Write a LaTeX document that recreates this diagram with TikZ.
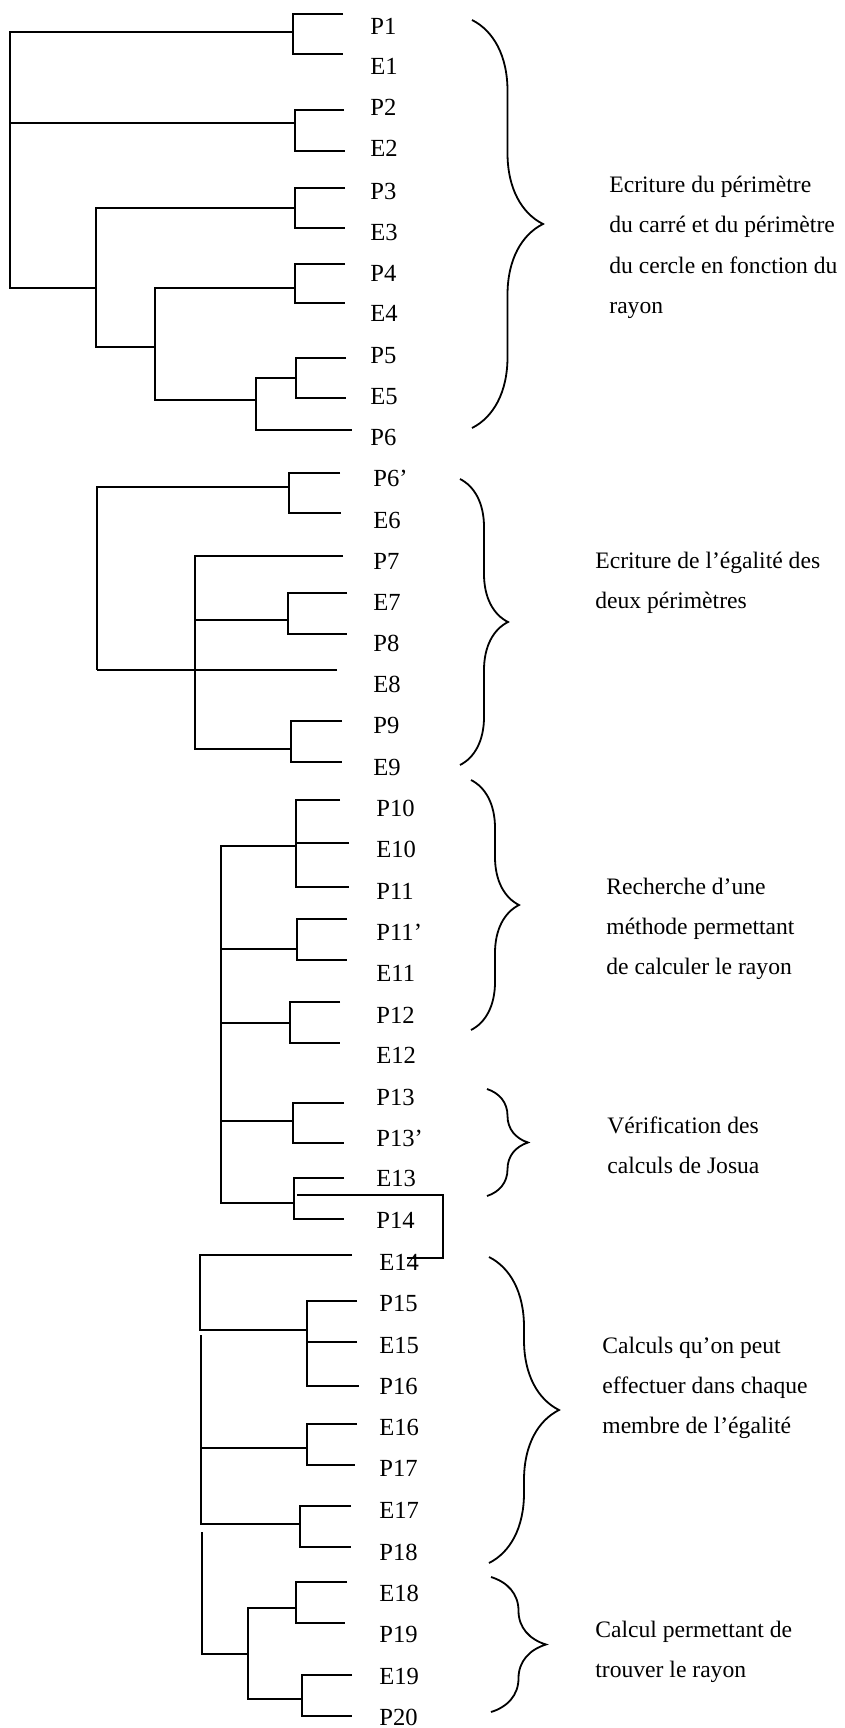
\documentclass[tikz,border=0pt]{standalone}
\usepackage{fontspec}
\setmainfont{Liberation Serif}
\usepackage{tikz}
\usetikzlibrary{positioning}
\usetikzlibrary{decorations.pathreplacing}

\begin{document}
\begin{tikzpicture}[x=0.5pt, y=-0.5pt,
    leaf style/.style={anchor=base west, inner sep=0pt,
        font=\fontsize{12.3}{14}\selectfont},
    note style/.style={anchor=base west, inner sep=0pt, align=left,
        font=\fontsize{11.8}{20}\selectfont},
    branch/.style={black, line width=1.1pt},
    brace edge/.style={black, line width=0.9pt, decorate}
]
\useasboundingbox (0,0) rectangle (845,1728);

% feuilles
\node[leaf style] (P1) at (370,35) {P1};
\node[leaf style] (E1) at (370,75) {E1};
\node[leaf style] (P2) at (370,116) {P2};
\node[leaf style] (E2) at (370,157) {E2};
\node[leaf style] (P3) at (370,200) {P3};
\node[leaf style] (E3) at (370,241) {E3};
\node[leaf style] (P4) at (370,281) {P4};
\node[leaf style] (E4) at (370,321) {E4};
\node[leaf style] (P5) at (370,363) {P5};
\node[leaf style] (E5) at (370,404) {E5};
\node[leaf style] (P6) at (370,445) {P6};

\node[leaf style] (P6') at (373,486) {P6’};
\node[leaf style] (E6) at (373,528) {E6};
\node[leaf style] (P7) at (373,569) {P7};
\node[leaf style] (E7) at (373,610) {E7};
\node[leaf style] (P8) at (373,651) {P8};
\node[leaf style] (E8) at (373,692) {E8};
\node[leaf style] (P9) at (373,733) {P9};
\node[leaf style] (E9) at (373,775) {E9};

\node[leaf style] (P10) at (376,816) {P10};
\node[leaf style] (E10) at (376,857) {E10};
\node[leaf style] (P11) at (376,899) {P11};
\node[leaf style] (P11') at (376,940) {P11’};
\node[leaf style] (E11) at (376,981) {E11};
\node[leaf style] (P12) at (376,1023) {P12};
\node[leaf style] (E12) at (376,1063) {E12};
\node[leaf style] (P13) at (376,1105) {P13};
\node[leaf style] (P13') at (376,1146) {P13’};
\node[leaf style] (E13) at (376,1186) {E13};
\node[leaf style] (P14) at (376,1228) {P14};

\node[leaf style] (E14) at (379,1270) {E14};
\node[leaf style] (P15) at (379,1311) {P15};
\node[leaf style] (E15) at (379,1353) {E15};
\node[leaf style] (P16) at (379,1394) {P16};
\node[leaf style] (E16) at (379,1435) {E16};
\node[leaf style] (P17) at (379,1476) {P17};
\node[leaf style] (E17) at (379,1518) {E17};
\node[leaf style] (P18) at (379,1560) {P18};
\node[leaf style] (E18) at (379,1601) {E18};
\node[leaf style] (P19) at (379,1642) {P19};
\node[leaf style] (E19) at (379,1684) {E19};
\node[leaf style] (P20) at (379,1725) {P20};

% bouts des branches
\coordinate (P1-l) at (343,14);
\coordinate (E1-l) at (343,54);
\coordinate (P2-l) at (344,110);
\coordinate (E2-l) at (345,151);
\coordinate (P3-l) at (345,188);
\coordinate (E3-l) at (345,228);
\coordinate (P4-l) at (345,264);
\coordinate (E4-l) at (345,303);
\coordinate (P5-l) at (346,358);
\coordinate (E5-l) at (346,398);
\coordinate (P6-l) at (352,430);

\coordinate (P6'-l) at (340,473);
\coordinate (E6-l) at (341,513);
\coordinate (P7-l) at (343,556);
\coordinate (E7-l) at (347,593);
\coordinate (P8-l) at (347,634);
\coordinate (E8-l) at (337,670);
\coordinate (P9-l) at (342,721);
\coordinate (E9-l) at (342,762);

\coordinate (P10-l) at (340,800);
\coordinate (E10-l) at (349,843);
\coordinate (P11-l) at (349,887);
\coordinate (P11'-l) at (347,919);
\coordinate (E11-l) at (347,960);
\coordinate (P12-l) at (340,1002);
\coordinate (E12-l) at (340,1043);
\coordinate (P13-l) at (344,1103);
\coordinate (P13'-l) at (344,1143);
\coordinate (E13-l) at (344,1178);
\coordinate (P14-l) at (344,1219);

\coordinate (E14-l) at (352,1255);
\coordinate (P15-l) at (357,1301);
\coordinate (E15-l) at (357,1342);
\coordinate (P16-l) at (359,1386);
\coordinate (E16-l) at (357,1424);
\coordinate (P17-l) at (355,1465);
\coordinate (E17-l) at (351,1506);
\coordinate (P18-l) at (351,1547);
\coordinate (E18-l) at (347,1582);
\coordinate (P19-l) at (345,1623);
\coordinate (E19-l) at (352,1675);
\coordinate (P20-l) at (352,1716);

% noeuds internes
\coordinate (a1) at (293,32);
\coordinate (a2) at (295,123);
\coordinate (a3) at (295,208);
\coordinate (a4) at (295,288);
\coordinate (a5) at (296,378);
\coordinate (a56) at (256,400);
\coordinate (a456) at (155,347);
\coordinate (a3456) at (96,288);
\coordinate (rA) at (10,288);

\coordinate (b1) at (289,487);
\coordinate (b7) at (288,620);
\coordinate (b9) at (291,749);
\coordinate (b0) at (195,670);
\coordinate (rB) at (97,670);

\coordinate (c1) at (296,846);
\coordinate (c2) at (297,949);
\coordinate (c3) at (290,1023);
\coordinate (c4) at (293,1121);
\coordinate (c5) at (294,1203);
\coordinate (rC) at (221,1203);
\coordinate (s1) at (297,1195);
\coordinate (s2) at (443,1258);
\coordinate (s3) at (407,1258);

\coordinate (d1) at (307,1330);
\coordinate (d2) at (307,1448);
\coordinate (d3) at (300,1524);
\coordinate (rD1) at (200,1330);
\coordinate (rD2) at (201,1335);
\coordinate (rD3) at (202,1532);
\coordinate (e1) at (296,1608);
\coordinate (e2) at (302,1699);
\coordinate (e0) at (248,1654);

% arbre
\draw[branch] (P1-l) -| (a1) |- (E1-l);
\draw[branch] (P2-l) -| (a2) |- (E2-l);
\draw[branch] (P3-l) -| (a3) |- (E3-l);
\draw[branch] (P4-l) -| (a4) |- (E4-l);
\draw[branch] (P5-l) -| (a5) |- (E5-l);
\draw[branch] (a5) -| (a56) |- (P6-l);
\draw[branch] (a4) -| (a456) |- (a56);
\draw[branch] (a3) -| (a3456) |- (a456);
\draw[branch] (a1) -| (rA) -- (a3456);
\draw[branch] (a2) -| (rA);

\draw[branch] (P6'-l) -| (b1) |- (E6-l);
\draw[branch] (E7-l) -| (b7) |- (P8-l);
\draw[branch] (P9-l) -| (b9) |- (E9-l);
\draw[branch] (P7-l) -| (b0) |- (b9);
\draw[branch] (b7) -| (b0);
\draw[branch] (E8-l) -- (b0) -- (rB);
\draw[branch] (b1) -| (rB);

\draw[branch] (P10-l) -| (c1) |- (P11-l);
\draw[branch] (E10-l) -| (c1);
\draw[branch] (P11'-l) -| (c2) |- (E11-l);
\draw[branch] (P12-l) -| (c3) |- (E12-l);
\draw[branch] (P13-l) -| (c4) |- (P13'-l);
\draw[branch] (E13-l) -| (c5) |- (P14-l);
\draw[branch] (c1) -| (rC) -- (c5);
\draw[branch] (c2) -| (rC);
\draw[branch] (c3) -| (rC);
\draw[branch] (c4) -| (rC);
\draw[branch] (s1) -| (s2) -- (s3);

\draw[branch] (E14-l) -| (rD1) -- (d1);
\draw[branch] (P15-l) -| (d1) |- (P16-l);
\draw[branch] (E15-l) -| (d1);
\draw[branch] (E16-l) -| (d2) |- (P17-l);
\draw[branch] (E17-l) -| (d3) |- (P18-l);
\draw[branch] (d2) -| (rD2) |- (d3);
\draw[branch] (E18-l) -| (e1) |- (P19-l);
\draw[branch] (E19-l) -| (e2) |- (P20-l);
\draw[branch] (e1) -| (e0) |- (e2);
\draw[branch] (rD3) |- (e0);

% accolades
\coordinate (br1-t) at (472,20);   \coordinate (br1-b) at (472,428);
\coordinate (br2-t) at (460,479);  \coordinate (br2-b) at (460,765);
\coordinate (br3-t) at (471,780);  \coordinate (br3-b) at (471,1030);
\coordinate (br4-t) at (487,1089); \coordinate (br4-b) at (487,1196);
\coordinate (br5-t) at (489,1257); \coordinate (br5-b) at (489,1563);
\coordinate (br6-t) at (491,1577); \coordinate (br6-b) at (491,1712);

\draw[brace edge, decoration={brace, amplitude=35.5pt}] (br1-t) -- (br1-b);
\draw[brace edge, decoration={brace, amplitude=24pt}] (br2-t) -- (br2-b);
\draw[brace edge, decoration={brace, amplitude=24pt}] (br3-t) -- (br3-b);
\draw[brace edge, decoration={brace, amplitude=20.5pt}] (br4-t) -- (br4-b);
\draw[brace edge, decoration={brace, amplitude=35pt}] (br5-t) -- (br5-b);
\draw[brace edge, decoration={brace, amplitude=27.5pt}] (br6-t) -- (br6-b);

% textes (ancre sur la ligne de base de la derniere ligne)
\node[note style] (T1) at (609,313) {Ecriture du périmètre\\du carré et du périmètre\\du cercle en fonction du\\rayon};
\node[note style] (T2) at (595,608) {Ecriture de l’égalité des\\deux périmètres};
\node[note style] (T3) at (606,974) {Recherche d’une\\méthode permettant\\de calculer le rayon};
\node[note style] (T4) at (607,1173) {Vérification des\\calculs de Josua};
\node[note style] (T5) at (602,1433) {Calculs qu’on peut\\effectuer dans chaque\\membre de l’égalité};
\node[note style] (T6) at (595,1677) {Calcul permettant de\\trouver le rayon};

\end{tikzpicture}
\end{document}
